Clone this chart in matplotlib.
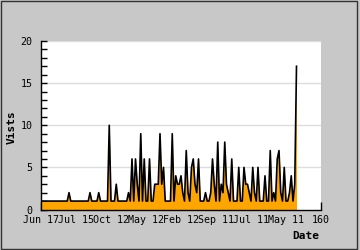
import matplotlib
matplotlib.use("Agg")
import matplotlib.pyplot as plt
from matplotlib.patches import Rectangle

# ---- data ----
tick_pos = [0, 20, 40, 60, 80, 100, 120, 140, 160]
tick_labels = ["Jun 17", "Jul 15", "Oct 12", "May 12", "Feb 12",
               "Sep 11", "Jul 11", "May 11", "160"]
y_ticks = [0, 5, 10, 15, 20]

visits = [1]*147
peaks = {16: 2, 28: 2, 33: 2, 39: 10, 43: 3,
         50: 2, 52: 6, 54: 6, 55: 3, 57: 9, 59: 6, 62: 6,
         65: 3, 66: 3, 67: 3, 68: 9, 69: 3, 70: 5, 75: 9,
         77: 4, 78: 3, 79: 3, 80: 4, 81: 2, 83: 7, 84: 2,
         86: 5, 87: 6, 88: 3, 89: 2, 90: 6, 94: 2, 97: 2,
         98: 6, 99: 3, 101: 8, 103: 3, 104: 2, 105: 8,
         106: 3, 107: 2, 109: 6, 113: 5, 116: 5, 117: 3,
         118: 3, 119: 2, 121: 5, 122: 2, 124: 5, 128: 4,
         131: 7, 133: 2, 135: 6, 136: 7, 137: 2, 139: 5,
         142: 2, 143: 4, 145: 3, 146: 17}
for k, val in peaks.items():
    visits[k] = val
days = list(range(len(visits)))

W, H = 360, 250
fig = plt.figure(figsize=(W/100, H/100), dpi=100)
fig.patch.set_facecolor("#C8C8C8")

L, R, T, B = 41, 321, 41, 209.5
ax = fig.add_axes([L/W, 1-B/H, (R-L)/W, (B-T)/H])
ax.set_facecolor("white")
ax.set_xlim(0, 160)
ax.set_ylim(0, 20)

ax.fill_between(days, 0, visits, color="#FFA500", linewidth=0, zorder=2)
ax.plot(days, visits, color="black", linewidth=1.2, zorder=3)

for y in y_ticks[1:]:
    ax.axhline(y, color="#DDDDDD", linewidth=1, zorder=1)

for s in ["top", "right"]:
    ax.spines[s].set_visible(False)
for s in ["left", "bottom"]:
    ax.spines[s].set_color("black")
    ax.spines[s].set_linewidth(1)
    ax.spines[s].set_zorder(5)

mono = "DejaVu Sans Mono"
ax.set_xticks(tick_pos)
ax.set_xticklabels(tick_labels, fontfamily=mono, fontsize=7.2)
ax.set_yticks(y_ticks)
ax.set_yticklabels([str(v) for v in y_ticks], fontfamily=mono, fontsize=7.2)
ax.set_yticks(range(0, 21), minor=True)
ax.tick_params(axis="x", direction="in", length=6, width=1, pad=4)
ax.tick_params(axis="y", direction="in", length=4, width=1, pad=6)
ax.tick_params(axis="y", which="minor", direction="in", length=4, width=1)
for t in ax.get_xticklines() + ax.get_yticklines():
    t.set_zorder(6)

fig.text(319/W, 1-236/H, "Date", ha="right", va="center",
         fontfamily=mono, fontweight="bold", fontsize=8)
fig.text(12/W, 1-127/H, "Vists", ha="center", va="center", rotation=90,
         fontfamily=mono, fontweight="bold", fontsize=8)

fig.patches.append(Rectangle((0.5/W, 1.5/H), 356.5/W, 247.5/H,
                             transform=fig.transFigure, fill=False,
                             edgecolor="#333333", linewidth=1))

fig.savefig("out.png", dpi=100, facecolor=fig.get_facecolor())
